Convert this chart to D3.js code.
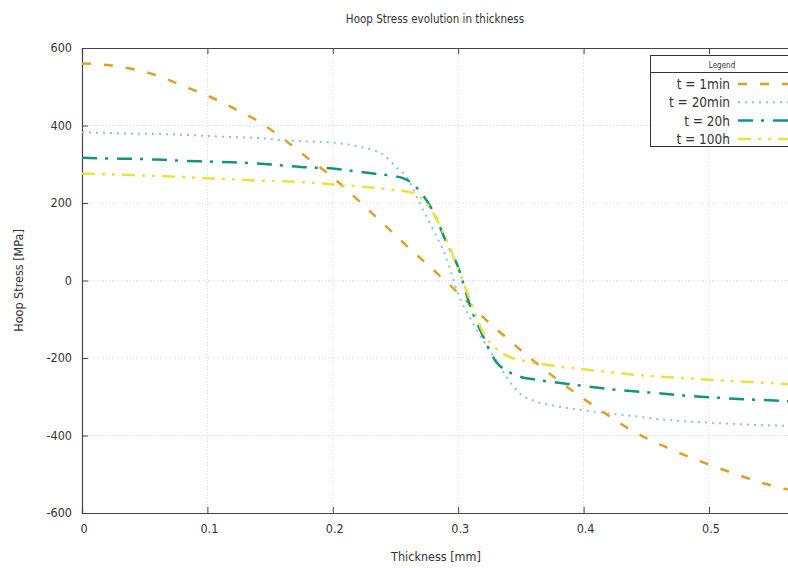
<!DOCTYPE html>
<html>
<head>
<meta charset="utf-8">
<script src="https://cdn.jsdelivr.net/npm/d3@7"></script>
<style>
  body { margin: 0; background: #fff; }
  svg { display: block; font-family: Tahoma, "DejaVu Sans Condensed", "DejaVu Sans", sans-serif; }
  .tick-label { font-size: 12.5px; fill: #333; }
  .grid line { stroke: #d8d8d8; stroke-dasharray: 1,2; }
</style>
</head>
<body>
<svg id="chart" width="788" height="568"></svg>
<script>
(function () {
  // thickness samples [mm] shared by all curves
  const thickness = [0, 0.02, 0.04, 0.06, 0.08, 0.1, 0.12, 0.14, 0.16, 0.18, 0.2, 0.22, 0.24, 0.25, 0.26, 0.27, 0.28, 0.29, 0.3, 0.31, 0.32, 0.33, 0.34, 0.35, 0.36, 0.38, 0.4, 0.42, 0.44, 0.46, 0.48, 0.5, 0.52, 0.54, 0.56, 0.58, 0.6];

  // hoop stress [MPa]
  const stress1min = [560, 556, 546, 529, 503, 477, 446, 412, 367, 316, 266, 208, 147, 117, 86, 57, 28, -2, -32, -63, -95, -124, -152, -180, -207, -258, -305, -349, -390, -422, -450, -475, -498, -520, -537, -553, -568];
  const stress20min = [382, 381, 379, 378, 376, 373, 370, 368, 362, 359, 356, 346, 325, 294, 262, 195, 131, 63, -35, -100, -155, -205, -256, -294, -310, -325, -335, -343, -350, -358, -363, -367, -370, -373, -375, -378, -380];
  const stress20h = [317, 315, 314, 312, 309, 307, 305, 302, 297, 292, 289, 281, 273, 269, 258, 228, 178, 103, 34, -70, -145, -209, -235, -249, -255, -264, -272, -280, -286, -291, -297, -301, -305, -308, -311, -314, -317];
  const stress100h = [276, 274, 272, 270, 267, 264, 261, 258, 256, 253, 248, 243, 237, 233, 229, 215, 175, 110, 30, -55, -135, -175, -196, -206, -212, -222, -229, -236, -243, -248, -252, -256, -260, -263, -267, -270, -273];

  const seriesNames = ["t = 1min", "t = 20min", "t = 20h", "t = 100h"];
  const seriesValues = [stress1min, stress20min, stress20h, stress100h];
  const seriesColors = ["#e0a028", "#8cc0df", "#12957a", "#ece13e"];
  const seriesDashes = ["9,13", "2,5", "15,8,3,9", "13,7,3,7,3,7"];

  const xTicks = [0, 0.1, 0.2, 0.3, 0.4, 0.5];
  const yTicks = [-600, -400, -200, 0, 200, 400, 600];

  const svg = d3.select("#chart");
  const left = 82, top = 48, bottom = 513;

  const x = d3.scaleLinear().domain([0, 0.6]).range([left, left + 1254 * 0.6]);
  const y = d3.scaleLinear().domain([-600, 600]).range([bottom, top]);

  // grid
  const grid = svg.append("g").attr("class", "grid");
  grid.selectAll(".gx").data(xTicks.slice(1)).join("line")
    .attr("x1", (d) => x(d)).attr("x2", (d) => x(d))
    .attr("y1", top).attr("y2", bottom);
  grid.selectAll(".gy").data(yTicks.slice(1, -1)).join("line")
    .attr("x1", left).attr("x2", x(0.6))
    .attr("y1", (d) => y(d)).attr("y2", (d) => y(d));

  // axes: ticks pointing inwards, labels drawn separately
  const axisColor = "#444";
  const xBottom = svg.append("g").attr("transform", `translate(0,${bottom})`)
    .call(d3.axisTop(x).tickValues(xTicks).tickSize(6).tickFormat(""));
  const xTop = svg.append("g").attr("transform", `translate(0,${top})`)
    .call(d3.axisBottom(x).tickValues(xTicks).tickSize(6).tickFormat(""));
  const yLeft = svg.append("g").attr("transform", `translate(${left},0)`)
    .call(d3.axisRight(y).tickValues(yTicks).tickSize(6).tickFormat(""));
  [xBottom, xTop, yLeft].forEach((g) => {
    g.selectAll("path").attr("stroke", axisColor).attr("stroke-width", 1.2);
    g.selectAll("line").attr("stroke", axisColor);
  });

  svg.append("g").selectAll("text").data(xTicks).join("text")
    .attr("class", "tick-label")
    .attr("x", (d) => x(d) + 2).attr("y", bottom + 20)
    .attr("text-anchor", "middle")
    .text((d) => (d === 0 ? "0" : d3.format(".1f")(d)));

  svg.append("g").selectAll("text").data(yTicks).join("text")
    .attr("class", "tick-label")
    .attr("x", left - 10).attr("y", (d) => y(d) + 4)
    .attr("text-anchor", "end")
    .text((d) => d);

  // titles
  svg.append("text").attr("x", 435).attr("y", 23).attr("text-anchor", "middle")
    .attr("font-size", 11.5).attr("fill", "#333").text("Hoop Stress evolution in thickness");
  svg.append("text").attr("x", 436).attr("y", 561).attr("text-anchor", "middle")
    .attr("font-size", 12.5).attr("fill", "#333").text("Thickness [mm]");
  svg.append("text").attr("transform", `translate(23,${y(0)}) rotate(-90)`)
    .attr("text-anchor", "middle").attr("font-size", 12.5).attr("fill", "#333")
    .text("Hoop Stress [MPa]");

  // curves
  const line = d3.line()
    .x((d) => x(d[0]))
    .y((d) => y(d[1]))
    .curve(d3.curveMonotoneX);

  svg.append("g").selectAll("path").data(seriesValues).join("path")
    .attr("fill", "none")
    .attr("stroke", (d, i) => seriesColors[i])
    .attr("stroke-width", (d, i) => (i === 1 ? 2 : 2.5))
    .attr("stroke-dasharray", (d, i) => seriesDashes[i])
    .attr("d", (vals) => line(thickness.map((t, k) => [t, vals[k]])));

  // legend
  const legend = svg.append("g");
  legend.append("rect").attr("x", 650.5).attr("y", 55.5).attr("width", 150).attr("height", 91)
    .attr("fill", "#fff").attr("stroke", "#333");
  legend.append("line").attr("x1", 650).attr("x2", 800).attr("y1", 72.5).attr("y2", 72.5)
    .attr("stroke", "#333");
  legend.append("text").attr("x", 722).attr("y", 68).attr("text-anchor", "middle")
    .attr("font-size", 8).attr("fill", "#333").text("Legend");

  const rows = legend.selectAll(".row").data(seriesNames).join("g")
    .attr("transform", (d, i) => `translate(0,${84 + i * 18.3})`);
  rows.append("text").attr("x", 730).attr("y", 5).attr("text-anchor", "end")
    .attr("font-size", 13.5).attr("fill", "#333").text((d) => d);
  rows.append("line").attr("x1", 738).attr("x2", 790).attr("y1", 0).attr("y2", 0)
    .attr("stroke", (d, i) => seriesColors[i])
    .attr("stroke-width", (d, i) => (i === 1 ? 2 : 2.5))
    .attr("stroke-dasharray", (d, i) => seriesDashes[i]);
})();
</script>
</body>
</html>
